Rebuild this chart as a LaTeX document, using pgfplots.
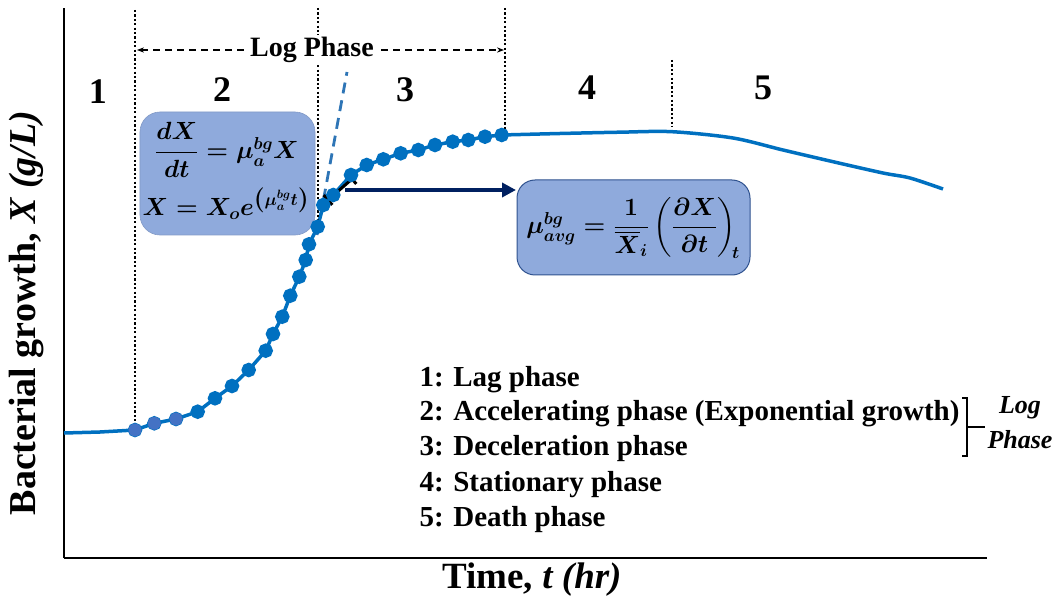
\documentclass[border=0pt]{standalone}
\usepackage{amsmath}
\usepackage{fontspec}
\setmainfont{Liberation Serif}
\usepackage{pgfplots}
\pgfplotsset{compat=1.18}
\usetikzlibrary{arrows.meta}
\definecolor{cblue}{RGB}{0,112,192}
\definecolor{mblue}{RGB}{68,114,196}
\definecolor{tblue}{RGB}{46,117,182}
\definecolor{boxfill}{RGB}{143,170,220}
\definecolor{boxline}{RGB}{47,82,143}
\definecolor{navy}{RGB}{0,32,96}
\begin{document}
\begin{tikzpicture}
\begin{axis}[
  scale only axis, x=1pt, y=1pt,
  xmin=64, xmax=987, ymin=45, ymax=595,
  axis x line=bottom, axis y line=left,
  axis line style={-, line width=2.8pt, black},
  xtick=\empty, ytick=\empty,
  clip=false,
]
% lag part
\addplot[cblue, line width=3.5pt, mark=none] coordinates {(64,170) (100,171) (135,173)};
% stationary / death part
\addplot[cblue, line width=3.5pt, mark=none, smooth, tension=0.5] coordinates {
(501.7,468) (560,469.5) (620,470.8) (672,471.3) (733,465) (783,453) (833,441.3) (883,430) (910,425) (943,414)};
% tangent line
\addplot[tblue, line width=2.8pt, dash pattern=on 11pt off 7pt, mark=none] coordinates {(317,368) (347,531)};
% measured points
\addplot[cblue, line width=3.5pt, mark=*, mark size=5.5pt, mark options={fill=cblue, draw=cblue}] coordinates {
(135,173) (154.3,179.7) (176,184) (197.7,191.3) (215,204.7) (232,217) (248.7,233) (265.7,252.3)
(273,269) (282.3,286.3) (290.3,307.3) (299.3,326.3) (305.7,343) (309,358.7) (317.7,376.3)
(323.3,398) (333.3,408) (351,428) (366.7,438) (383.3,443.7) (400.7,449.7) (418.3,453) (435,458)
(452.7,461.3) (468.3,463) (485,466.3) (501.7,468)};
\addplot[only marks, mark=*, mark size=6.2pt, mark options={fill=mblue, draw=mblue}] coordinates {(135,173) (154.3,179.7) (176,184)};

% dotted phase boundaries
\draw[black, line width=2.2pt, dash pattern=on 2.2pt off 2.2pt] (axis cs:135,593) -- (axis cs:135,177);
\draw[black, line width=2.2pt, dash pattern=on 2.2pt off 2.2pt] (axis cs:318,595) -- (axis cs:318,381);
\draw[black, line width=2.2pt, dash pattern=on 2.2pt off 2.2pt] (axis cs:505,595) -- (axis cs:505,473);
\draw[black, line width=2.2pt, dash pattern=on 2.2pt off 2.2pt] (axis cs:672,543) -- (axis cs:672,476);

% Log phase arrow
\draw[black, line width=1.5pt, dash pattern=on 7pt off 5pt, {Stealth[length=7pt]}-{Stealth[length=7pt]}] (axis cs:137,553) -- (axis cs:504,553);
\node[fill=white, inner sep=2pt, font=\fontsize{28}{32}\selectfont\bfseries] at (axis cs:312,553) {Log Phase};

% phase numbers
\node[font=\fontsize{36}{40}\selectfont\bfseries] at (axis cs:98,511) {1};
\node[font=\fontsize{36}{40}\selectfont\bfseries] at (axis cs:222,513) {2};
\node[font=\fontsize{36}{40}\selectfont\bfseries] at (axis cs:405,513) {3};
\node[font=\fontsize{36}{40}\selectfont\bfseries] at (axis cs:587,515) {4};
\node[font=\fontsize{36}{40}\selectfont\bfseries] at (axis cs:763,515) {5};

% box 1
\draw[fill=boxfill, draw=boxfill!90!black, line width=0.6pt, rounded corners=20pt] (axis cs:140,491) rectangle (axis cs:315,368);
\node[font=\fontsize{26}{30}\selectfont\boldmath] at (axis cs:227,453) {$\dfrac{dX}{dt} = \mu_a^{bg} X$};
\node[font=\fontsize{25}{29}\selectfont\boldmath] at (axis cs:226,399) {$X = X_o e^{\left(\mu_a^{bg} t\right)}$};

% box 2
\draw[fill=boxfill, draw=boxline, line width=1pt, rounded corners=18pt] (axis cs:517,423) rectangle (axis cs:750,328);
\node[font=\fontsize{24}{28}\selectfont\boldmath] at (axis cs:633,375) {$\mu_{avg}^{bg} = \dfrac{1}{\overline{X}_i}\left(\dfrac{\partial X}{\partial t}\right)_{\!t}$};

% navy arrow
\draw[navy, line width=3.5pt, -{Triangle[length=14pt, width=14pt]}] (axis cs:345,413) -- (axis cs:516,413);
% error bar
\draw[black, line width=3pt] (axis cs:328,403) -- (axis cs:352,424);
\draw[black, line width=3pt] (axis cs:323.7,407.9) -- (axis cs:332.3,398.1);
\draw[black, line width=3pt] (axis cs:347.7,428.9) -- (axis cs:356.3,419.1);

% legend text
\node[anchor=west, font=\fontsize{29}{33}\selectfont\bfseries] at (axis cs:416,223) {1: Lag phase};
\node[anchor=west, font=\fontsize{29}{33}\selectfont\bfseries] at (axis cs:416,189) {2: Accelerating phase (Exponential growth)};
\node[anchor=west, font=\fontsize{29}{33}\selectfont\bfseries] at (axis cs:416,154) {3: Deceleration phase};
\node[anchor=west, font=\fontsize{29}{33}\selectfont\bfseries] at (axis cs:416,118) {4: Stationary phase};
\node[anchor=west, font=\fontsize{29}{33}\selectfont\bfseries] at (axis cs:416,83) {5: Death phase};
% bracket
\draw[black, line width=1.8pt] (axis cs:962,205) -- (axis cs:967,205) -- (axis cs:967,147) -- (axis cs:962,147);
\draw[black, line width=1.8pt] (axis cs:967,176) -- (axis cs:985,176);
\node[font=\fontsize{26}{30}\selectfont\bfseries\itshape] at (axis cs:1020,195) {Log};
\node[font=\fontsize{26}{30}\selectfont\bfseries\itshape] at (axis cs:1020,163) {Phase};

% axis labels
\node[font=\fontsize{37}{41}\selectfont\bfseries] at (axis cs:532,23) {Time, \textit{t (hr)}};
\node[rotate=90, font=\fontsize{38}{42}\selectfont\bfseries] at (axis cs:27,290) {Bacterial growth, \textit{X (g/L)}};

\coordinate (BL) at (axis cs:0,0);
\coordinate (TR) at (axis cs:1063,603);
\end{axis}
\pgfresetboundingbox
\path (BL) rectangle (TR);
\end{tikzpicture}
\end{document}
